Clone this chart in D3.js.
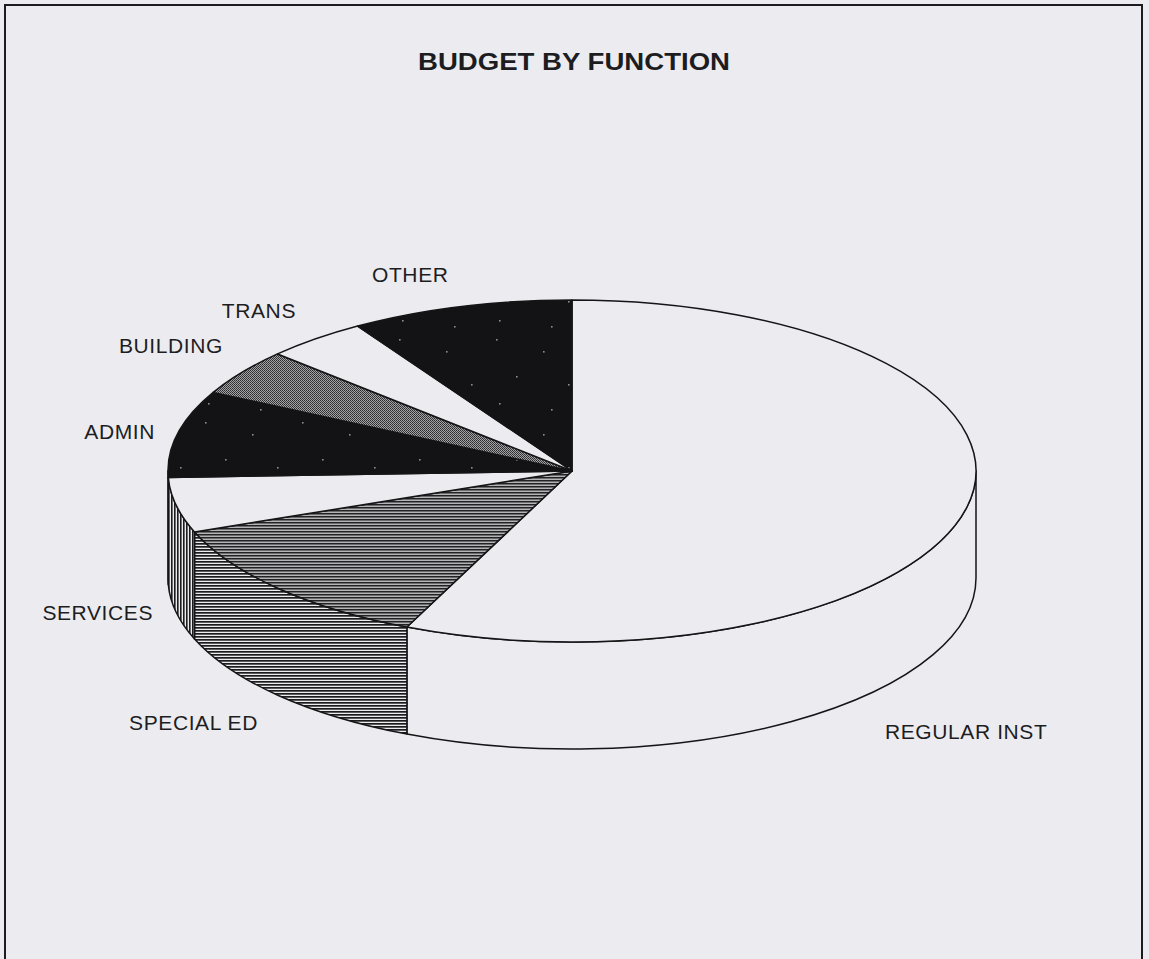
<!DOCTYPE html>
<html>
<head>
<meta charset="utf-8">
<script src="https://cdn.jsdelivr.net/npm/d3@7"></script>
<style>
  html, body { margin: 0; padding: 0; background: #ececf0; }
  svg { display: block; }
  text { font-family: "Liberation Sans", Arial, sans-serif; fill: #1d1d1f; }
</style>
</head>
<body>
<div id="viz"></div>
<script>
// budget shares (percent of total), clockwise from 12 o'clock
const categories = ['REGULAR INST', 'SPECIAL ED', 'SERVICES', 'ADMIN', 'BUILDING', 'TRANS', 'OTHER'];
const shares = [56.7, 12.5, 5.2, 8.2, 4.4, 4.1, 8.9];
const title = 'BUDGET BY FUNCTION';

const width = 1149, height = 959;
const bg = '#ececf0';
const ink = '#151517';

// pie geometry (ellipse of the tilted disc)
const cx = 572, cy = 471, rx = 404, ry = 171, depth = 107;

// fills for top face / side face of each slice
const topFill = {
  'REGULAR INST': bg, 'SPECIAL ED': 'url(#hatchHTop)', 'SERVICES': bg,
  'ADMIN': 'url(#speckBlack)', 'BUILDING': 'url(#stipple)', 'TRANS': bg, 'OTHER': 'url(#speckBlack)'
};
const sideFill = {
  'REGULAR INST': bg, 'SPECIAL ED': 'url(#hatchH)', 'SERVICES': 'url(#hatchV)',
  'ADMIN': 'url(#speckBlack)', 'BUILDING': 'url(#stipple)', 'TRANS': bg, 'OTHER': 'url(#speckBlack)'
};

// label placement
const labelPos = {
  'REGULAR INST': { x: 885, y: 739, anchor: 'start' },
  'SPECIAL ED': { x: 258, y: 730, anchor: 'end' },
  'SERVICES': { x: 153, y: 620, anchor: 'end' },
  'ADMIN': { x: 155, y: 439, anchor: 'end' },
  'BUILDING': { x: 223, y: 353, anchor: 'end' },
  'TRANS': { x: 296, y: 318, anchor: 'end' },
  'OTHER': { x: 372, y: 282, anchor: 'start' }
};

const svg = d3.select('#viz').append('svg')
  .attr('width', width)
  .attr('height', height);

const defs = svg.append('defs');

function pattern(id, w, h, base = bg) {
  const p = defs.append('pattern')
    .attr('id', id)
    .attr('patternUnits', 'userSpaceOnUse')
    .attr('width', w)
    .attr('height', h);
  p.append('rect').attr('width', w).attr('height', h).attr('fill', base);
  return p;
}

// horizontal lines (special ed)
pattern('hatchH', 7, 3)
  .append('rect').attr('width', 7).attr('height', 1.7).attr('fill', '#1c1c1e');
pattern('hatchHTop', 7, 3, '#b4b4b8')
  .append('rect').attr('width', 7).attr('height', 1.5).attr('fill', '#222224');

// vertical lines (services side)
pattern('hatchV', 3, 7)
  .append('rect').attr('width', 1.6).attr('height', 7).attr('fill', '#1c1c1e');

// fine checker (building)
const st = pattern('stipple', 2, 2, '#a4a4a8');
st.append('rect').attr('width', 1).attr('height', 1).attr('fill', '#2a2a2c');
st.append('rect').attr('x', 1).attr('y', 1).attr('width', 1).attr('height', 1).attr('fill', '#3c3c3e');

// solid black with a few light specks
const sp = defs.append('pattern')
  .attr('id', 'speckBlack')
  .attr('patternUnits', 'userSpaceOnUse')
  .attr('width', 97)
  .attr('height', 83);
sp.append('rect').attr('width', 97).attr('height', 83).attr('fill', '#131315');
[[11, 7], [58, 19], [31, 44], [83, 52], [14, 71], [66, 77]].forEach(([x, y]) => {
  sp.append('rect').attr('x', x).attr('y', y).attr('width', 1.6).attr('height', 1.6)
    .attr('fill', '#8c8c90');
});

svg.append('rect').attr('width', width).attr('height', height).attr('fill', bg);

// frame (open at the bottom, cut by the scan)
svg.append('path')
  .attr('d', `M5,${height} L5,5 L1142,5 L1142,${height}`)
  .attr('fill', 'none')
  .attr('stroke', '#1c1c1e')
  .attr('stroke-width', 2);

svg.append('text')
  .attr('x', 574)
  .attr('y', 70)
  .attr('text-anchor', 'middle')
  .attr('textLength', 312)
  .attr('lengthAdjust', 'spacingAndGlyphs')
  .style('font-size', '24px')
  .style('font-weight', 'bold')
  .text(title);

const pie = d3.pie().sort(null).value(d => d.value);
const slices = pie(categories.map((c, i) => ({ name: c, value: shares[i] })));

// angle from 12 o'clock, clockwise -> point on the ellipse
const pt = (a, dy = 0) => [cx + rx * Math.sin(a), cy - ry * Math.cos(a) + dy];
const fmt = p => `${p[0].toFixed(2)},${p[1].toFixed(2)}`;

function topPath(d) {
  const large = d.endAngle - d.startAngle > Math.PI ? 1 : 0;
  return `M${cx},${cy} L${fmt(pt(d.startAngle))} A${rx},${ry} 0 ${large} 1 ${fmt(pt(d.endAngle))} Z`;
}

function sidePath(d) {
  const a = Math.max(d.startAngle, Math.PI / 2);
  const b = Math.min(d.endAngle, 3 * Math.PI / 2);
  if (b <= a) return null;
  return `M${fmt(pt(a))} A${rx},${ry} 0 0 1 ${fmt(pt(b))}` +
    ` L${fmt(pt(b, depth))} A${rx},${ry} 0 0 0 ${fmt(pt(a, depth))} Z`;
}

const pieG = svg.append('g');

pieG.selectAll('path.side')
  .data(slices.filter(d => sidePath(d)))
  .join('path')
  .attr('class', 'side')
  .attr('d', sidePath)
  .attr('fill', d => sideFill[d.data.name])
  .attr('stroke', ink)
  .attr('stroke-width', 1.5)
  .attr('stroke-linejoin', 'round');

pieG.selectAll('path.top')
  .data(slices)
  .join('path')
  .attr('class', 'top')
  .attr('d', topPath)
  .attr('fill', d => topFill[d.data.name])
  .attr('stroke', ink)
  .attr('stroke-width', 1.5)
  .attr('stroke-linejoin', 'round');

svg.selectAll('text.label')
  .data(slices)
  .join('text')
  .attr('class', 'label')
  .attr('x', d => labelPos[d.data.name].x)
  .attr('y', d => labelPos[d.data.name].y)
  .attr('text-anchor', d => labelPos[d.data.name].anchor)
  .style('font-size', '21px')
  .style('letter-spacing', '0.6px')
  .text(d => d.data.name);
</script>
</body>
</html>
